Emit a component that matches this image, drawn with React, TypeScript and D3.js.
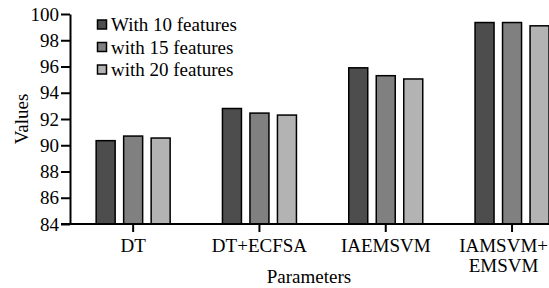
import React, { useEffect, useRef } from 'react';
import * as d3 from 'd3';

const categories = ['DT', 'DT+ECFSA', 'IAEMSVM', 'IAMSVM+\nEMSVM'];
const seriesNames = ['With 10 features', 'with 15 features', 'with 20 features'];
const with10 = [90.35, 92.8, 95.9, 99.35];
const with15 = [90.7, 92.45, 95.3, 99.35];
const with20 = [90.55, 92.3, 95.05, 99.1];
const yTicks = [84, 86, 88, 90, 92, 94, 96, 98, 100];
const colors = ['#4d4d4d', '#808080', '#b3b3b3'];

const W = 549;
const H = 288;
const FONT = 'Liberation Serif';

const App: React.FC = () => {
  const svgRef = useRef<SVGSVGElement>(null);

  useEffect(() => {
    if (!svgRef.current) return;
    const svg = d3.select(svgRef.current);
    svg.selectAll('*').remove();

    const left = 70;
    const top = 14;
    const bottom = 224;

    const y = d3.scaleLinear().domain([84, 100]).range([bottom, top]);
    const x0 = d3.scaleBand<string>().domain(categories).range([left, left + 4 * 126.3]);
    const groupW = 74;
    const x1 = d3.scaleBand<string>().domain(seriesNames).range([0, groupW]).paddingInner(0.309);
    const offset = (x0.bandwidth() - groupW) / 2;

    const values = [with10, with15, with20];

    // bars
    categories.forEach((c, ci) => {
      seriesNames.forEach((s, si) => {
        const v = values[si][ci];
        svg.append('rect')
          .attr('x', (x0(c) as number) + offset + (x1(s) as number))
          .attr('y', y(v))
          .attr('width', x1.bandwidth())
          .attr('height', bottom - y(v))
          .attr('fill', colors[si])
          .attr('stroke', '#000')
          .attr('stroke-width', 1.5);
      });
    });

    // y axis
    const yAxis = svg.append('g')
      .attr('transform', `translate(${left},0)`)
      .call(d3.axisLeft(y).tickValues(yTicks).tickSize(9).tickPadding(2).tickSizeOuter(0));
    yAxis.attr('font-family', FONT).attr('font-size', 19);
    yAxis.select('.domain').attr('stroke-width', 2);
    yAxis.selectAll('.tick line').attr('stroke-width', 2);
    yAxis.selectAll('text').attr('fill', '#000');

    // x axis
    svg.append('line')
      .attr('x1', left - 9).attr('x2', W)
      .attr('y1', bottom).attr('y2', bottom)
      .attr('stroke', '#000').attr('stroke-width', 2);

    categories.forEach((c) => {
      const cx = (x0(c) as number) + x0.bandwidth() / 2;
      svg.append('line')
        .attr('x1', cx).attr('x2', cx)
        .attr('y1', bottom).attr('y2', bottom + 8)
        .attr('stroke', '#000').attr('stroke-width', 2);
      const t = svg.append('text')
        .attr('y', 252)
        .attr('text-anchor', 'middle')
        .attr('font-family', FONT)
        .attr('font-size', 19);
      const lines = c.split('\n');
      lines.forEach((line, i) => {
        t.append('tspan').attr('dy', i === 0 ? 0 : 20).text(line);
      });
      // keep the label inside the picture at the right edge
      const wMax = d3.max(t.selectAll<SVGTSpanElement, unknown>('tspan').nodes(), (n) => n.getComputedTextLength()) || 0;
      const lx = Math.min(cx, W - wMax / 2 - 1);
      t.selectAll('tspan').attr('x', lx);
    });

    // axis titles
    svg.append('text')
      .attr('x', 309)
      .attr('y', 283)
      .attr('text-anchor', 'middle')
      .attr('font-family', FONT)
      .attr('font-size', 19)
      .text('Parameters');

    svg.append('text')
      .attr('transform', `translate(28,${(top + bottom) / 2}) rotate(-90)`)
      .attr('text-anchor', 'middle')
      .attr('font-family', FONT)
      .attr('font-size', 19)
      .text('Values');

    // legend
    seriesNames.forEach((s, i) => {
      const cy = 24.5 + i * 22.5;
      svg.append('rect')
        .attr('x', 97.5).attr('y', cy - 4.5)
        .attr('width', 9).attr('height', 9)
        .attr('fill', colors[i])
        .attr('stroke', '#000').attr('stroke-width', 1.5);
      svg.append('text')
        .attr('x', 111)
        .attr('y', cy + 6.5)
        .attr('font-family', FONT)
        .attr('font-size', 19)
        .text(s);
    });
  }, []);

  return (
    <svg
      ref={svgRef}
      width={W}
      height={H}
      style={{ position: 'absolute', left: 0, top: 0, background: '#fff' }}
    />
  );
};

export default App;
